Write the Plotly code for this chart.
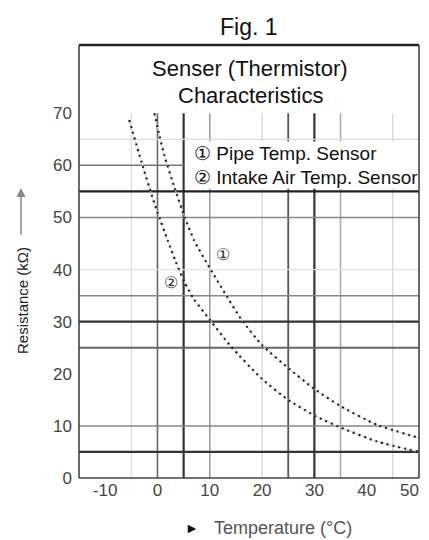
import plotly.graph_objects as go

# ---------------- data ----------------
pipe_temp = [-0.6, 0.4, 1.3, 3.3, 5.2, 7, 10, 13, 16, 20, 25, 30, 35, 42, 50]
pipe_res = [70, 65.6, 62, 55.6, 50.1, 45.6, 40.3, 35.3, 30.5, 25.5, 21.1, 17.1, 13.8, 10.2, 7.7]

intake_temp = [-5.4, -3, -1, 0, 2, 3.5, 5.2, 7, 10, 14, 20, 25, 30, 35, 42, 50]
intake_res = [68.7, 60.5, 54, 51, 45.5, 41.5, 37.5, 34.3, 30.4, 25.3, 19, 15, 12, 9.7, 7.0, 5.0]

x_ticks = [-10, 0, 10, 20, 30, 40, 50]
y_ticks = [0, 10, 20, 30, 40, 50, 60, 70]

# reference grid lines of the chart
v_grid = [-5, 0, 5, 10, 20, 25, 30, 35, 45]
h_grid = [65, 60, 55, 50, 40, 35, 30, 25, 10, 5]

# styles
v_style = {-5: ("#dcdcdc", 1.2), 0: ("#666", 1.6), 5: ("#333", 2.2), 10: ("#999", 1.5),
           20: ("#cfcfcf", 1.2), 25: ("#555", 1.8), 30: ("#333", 2.2), 35: ("#aaa", 1.5),
           45: ("#cfcfcf", 1.2)}
h_style = {65: ("#dcdcdc", 1.2), 60: ("#777", 1.5), 55: ("#222", 2.4), 50: ("#888", 1.5),
           40: ("#e2e2e2", 1.2), 35: ("#888", 1.5), 30: ("#333", 2.2), 25: ("#666", 1.8),
           10: ("#888", 1.5), 5: ("#333", 2.2)}

X0, X1 = -15, 50
Y0, Y1 = 0, 83.1
GRID_TOP = 70
LEG_LEFT = 5
FONT = "Liberation Sans, Arial, sans-serif"
TICK_FONT = dict(family=FONT, size=17, color="#444")

fig = go.Figure()

# faint connecting lines under dotted curves
for xs, ys in [(pipe_temp, pipe_res), (intake_temp, intake_res)]:
    fig.add_trace(go.Scatter(x=xs, y=ys, mode="lines",
                             line=dict(color="#d4d4d4", width=1, shape="spline", smoothing=0.6),
                             hoverinfo="skip", showlegend=False))
    fig.add_trace(go.Scatter(x=xs, y=ys, mode="lines",
                             line=dict(color="#222", width=2.2, dash="2px,4px",
                                       shape="spline", smoothing=0.6),
                             showlegend=False))

shapes = []
for v in v_grid:
    c, w = v_style[v]
    shapes.append(dict(type="line", xref="x", yref="y", x0=v, x1=v, y0=Y0, y1=GRID_TOP,
                       line=dict(color=c, width=w), layer="below"))
for h in h_grid:
    c, w = h_style[h]
    xe = LEG_LEFT if h == 60 else X1
    shapes.append(dict(type="line", xref="x", yref="y", x0=X0, x1=xe, y0=h, y1=h,
                       line=dict(color=c, width=w), layer="below"))
# white legend box area (interrupts the grid)
shapes.append(dict(type="rect", xref="x", yref="y", x0=LEG_LEFT + 0.25, x1=X1 - 0.2,
                   y0=55.5, y1=64.6, fillcolor="white", line=dict(width=0), layer="below"))
# frame
shapes += [
    dict(type="line", xref="paper", yref="paper", x0=0, x1=1, y0=1, y1=1,
         line=dict(color="#222", width=2.6)),
    dict(type="line", xref="paper", yref="paper", x0=0, x1=0, y0=0, y1=1,
         line=dict(color="#444", width=1.6)),
    dict(type="line", xref="paper", yref="paper", x0=1, x1=1, y0=0, y1=1,
         line=dict(color="#444", width=1.6)),
    dict(type="line", xref="paper", yref="paper", x0=0, x1=1, y0=0, y1=0,
         line=dict(color="#444", width=1.6)),
]

# pixel helpers (screen plot area: x 79..419, y 45..478)
def px(x):
    return (x - 79) / 340.0

def py(y):
    return (478 - y) / 433.0

def txt(text, x, y, size, color="#111", xanchor="center", **kw):
    return dict(text=text, xref="paper", yref="paper", x=px(x), y=py(y),
                xanchor=xanchor, yanchor="middle", showarrow=False,
                font=dict(family=FONT, size=size, color=color), **kw)

annotations = [
    txt("Fig. 1", 249, 27, 23),
    txt("Senser (Thermistor)", 250, 68, 22),
    txt("Characteristics", 250, 95, 22),
    txt("① Pipe Temp. Sensor", 192, 153, 19, xanchor="left"),
    txt("② Intake Air Temp. Sensor", 192, 177, 19, xanchor="left"),
    dict(text="①", xref="x", yref="y", x=12.6, y=42.8, showarrow=False,
         xanchor="center", yanchor="middle", font=dict(family=FONT, size=16, color="#333")),
    dict(text="②", xref="x", yref="y", x=2.6, y=37.6, showarrow=False,
         xanchor="center", yanchor="middle", font=dict(family=FONT, size=16, color="#333")),
    txt("Resistance (kΩ)", 22, 301, 15, color="#222", textangle=-90),
    dict(text="", xref="paper", yref="paper", x=px(21), y=py(188), ax=0, ay=48,
         showarrow=True, arrowhead=2, arrowsize=1.2, arrowwidth=1.5, arrowcolor="#888"),
    txt("►", 192, 528, 14),
    txt("Temperature (°C)", 212, 528, 18, color="#555", xanchor="left"),
    # last x tick label, kept fully inside the visible page edge
    dict(text=str(x_ticks[-1]), xref="x", yref="paper", x=X1, y=py(490),
         xanchor="right", yanchor="middle", xshift=2, showarrow=False, font=TICK_FONT),
]

x_ticktext = [str(v) for v in x_ticks[:-1]] + [""]

# the page adds an 8px body margin; compensate so the plot lands where the reference has it
fig.update_layout(
    width=421, height=532,
    margin=dict(l=71, r=10, t=37, b=62, autoexpand=False),
    paper_bgcolor="white", plot_bgcolor="white",
    shapes=shapes, annotations=annotations, showlegend=False,
    xaxis=dict(range=[X0, X1], showgrid=False, zeroline=False, showline=False,
               tickvals=x_ticks, ticktext=x_ticktext, ticks="",
               tickfont=TICK_FONT),
    yaxis=dict(range=[Y0, Y1], showgrid=False, zeroline=False, showline=False,
               tickvals=y_ticks, ticktext=[str(v) for v in y_ticks], ticks="",
               ticklabelstandoff=6, tickfont=TICK_FONT),
)

fig.write_html("out.html")
